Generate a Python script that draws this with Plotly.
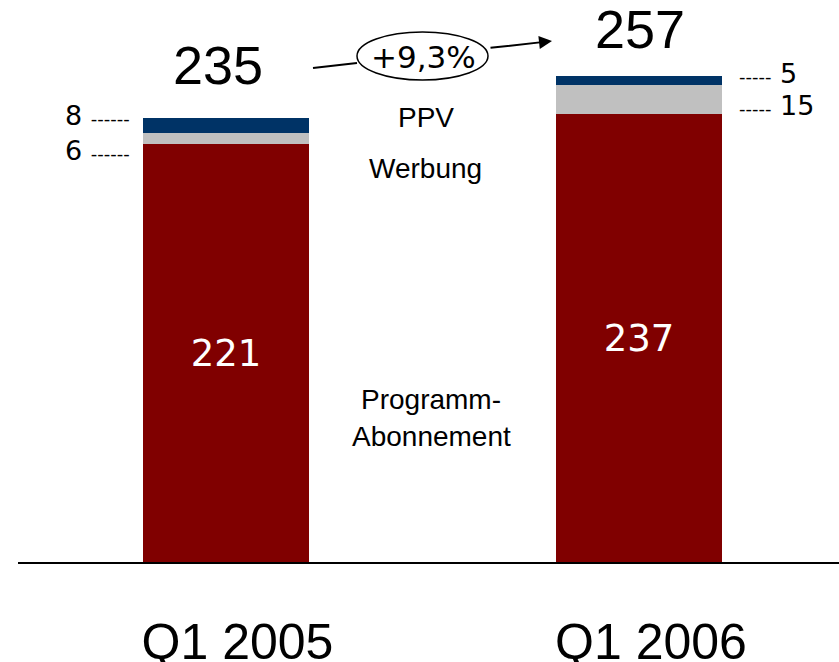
import plotly.graph_objects as go

# ---- data ----
quarters = ["Q1 2005", "Q1 2006"]
abo = [221, 237]          # Programm-Abonnement
werbung = [6, 15]         # Werbung
ppv = [8, 5]              # PPV
totals = [235, 257]
growth_label = "+9,3%"
series_labels = ["Programm-", "Abonnement", "Werbung", "PPV"]

# ---- geometry ----
W, H = 839, 662
ML, MR, MT, MB = 18, 0, 0, 100
PX_PER_UNIT = 1.891
plot_h = H - MT - MB
ymax = plot_h / PX_PER_UNIT
PX_PER_CAT = 413.5
x_left = -207.5 / PX_PER_CAT
x_right = x_left + (W - ML - MR) / PX_PER_CAT
BAR_W = 166 / PX_PER_CAT


def dx(px):
    return x_left + (px - ML) / PX_PER_CAT


def dy(py):
    return (MT + plot_h - py) / PX_PER_UNIT


RED, GRAY, NAVY = "#800000", "#C0C0C0", "#003366"
NUM_FONT = "DejaVu Sans"
TXT_FONT = "Liberation Sans"

fig = go.Figure()
fig.add_trace(go.Bar(x=quarters, y=abo, marker=dict(color=RED, line=dict(width=0)),
                     width=BAR_W, text=[str(v) for v in abo], textposition="inside",
                     insidetextanchor="middle", textangle=0,
                     textfont=dict(family=NUM_FONT, size=37, color="white"),
                     name="Programm-Abonnement", showlegend=False))
fig.add_trace(go.Bar(x=quarters, y=werbung, marker=dict(color=GRAY, line=dict(width=0)),
                     width=BAR_W, textposition="none", name="Werbung", showlegend=False))
fig.add_trace(go.Bar(x=quarters, y=ppv, marker=dict(color=NAVY, line=dict(width=0)),
                     width=BAR_W, textposition="none", name="PPV", showlegend=False))

ann = []
# totals above bars
total_shift = [(-8, 53), (1, 47)]
for i, t in enumerate(totals):
    xs, ys = total_shift[i]
    ann.append(dict(x=i, y=t, xref="x", yref="y", text=str(t), showarrow=False,
                    yanchor="middle", xanchor="center", yshift=ys, xshift=xs,
                    font=dict(family=TXT_FONT, size=54, color="black")))

dash_l = "<span style='font-size:18px'>------</span>"
dash_r = "<span style='font-size:18px'>-----</span>"
# left labels (Q1 2005)
w_mid0 = abo[0] + werbung[0] / 2
p_mid0 = abo[0] + werbung[0] + ppv[0] / 2
ann.append(dict(x=0, y=p_mid0, xref="x", yref="y", text=f"{ppv[0]} {dash_l}", showarrow=False,
                xanchor="right", yanchor="middle", xshift=-93.5, yshift=10,
                font=dict(family=NUM_FONT, size=27, color="black")))
ann.append(dict(x=0, y=w_mid0, xref="x", yref="y", text=f"{werbung[0]} {dash_l}", showarrow=False,
                xanchor="right", yanchor="middle", xshift=-93.5, yshift=-12,
                font=dict(family=NUM_FONT, size=27, color="black")))
# right labels (Q1 2006)
w_mid1 = abo[1] + werbung[1] / 2
p_mid1 = abo[1] + werbung[1] + ppv[1] / 2
ann.append(dict(x=1, y=p_mid1, xref="x", yref="y", text=f"{dash_r} {ppv[1]}", showarrow=False,
                xanchor="left", yanchor="middle", xshift=98, yshift=7,
                font=dict(family=NUM_FONT, size=27, color="black")))
ann.append(dict(x=1, y=w_mid1, xref="x", yref="y", text=f"{dash_r} {werbung[1]}", showarrow=False,
                xanchor="left", yanchor="middle", xshift=98, yshift=-6,
                font=dict(family=NUM_FONT, size=27, color="black")))

# series labels in the middle
lab_pos = [(dx(431), dy(399)), (dx(431), dy(436)), (dx(425), dy(168)), (dx(426), dy(117))]
for (lx, ly), s in zip(lab_pos, series_labels):
    ann.append(dict(x=lx, y=ly, xref="x", yref="y", text=s, showarrow=False,
                    xanchor="center", yanchor="middle",
                    font=dict(family=TXT_FONT, size=28, color="black")))

# growth label and arrow
ann.append(dict(x=dx(423), y=dy(57), xref="x", yref="y", text=growth_label, showarrow=False,
                xanchor="center", yanchor="middle",
                font=dict(family=NUM_FONT, size=31, color="black")))
ann.append(dict(x=dx(552), y=dy(41), xref="x", yref="y", text="", showarrow=True,
                ax=-63, ay=7, arrowhead=2, arrowsize=1.3, arrowwidth=2, arrowcolor="black",
                standoff=0))

shapes = [
    dict(type="circle", xref="x", yref="y", x0=dx(357), x1=dx(488), y0=dy(80), y1=dy(32),
         line=dict(color="black", width=1.5)),
    dict(type="line", xref="x", yref="y", x0=dx(313), y0=dy(68), x1=dx(357), y1=dy(63),
         line=dict(color="black", width=2)),
]

fig.update_layout(
    width=W, height=H, barmode="stack", bargap=0,
    margin=dict(l=ML, r=MR, t=MT, b=MB, pad=0, autoexpand=False),
    plot_bgcolor="white", paper_bgcolor="white",
    annotations=ann, shapes=shapes, showlegend=False,
    xaxis=dict(range=[x_left, x_right], showgrid=False, zeroline=False, automargin=False,
               showline=True, linecolor="black", linewidth=2, ticks="",
               tickfont=dict(family=TXT_FONT, size=50, color="black"),
               ticklabelstandoff=35, ticklabelshift=12, fixedrange=True),
    yaxis=dict(range=[0, ymax], visible=False, fixedrange=True, automargin=False),
)

fig.write_html("out.html", config={"displayModeBar": False},
               post_script="document.body.style.margin='0';document.body.style.overflow='hidden';")
